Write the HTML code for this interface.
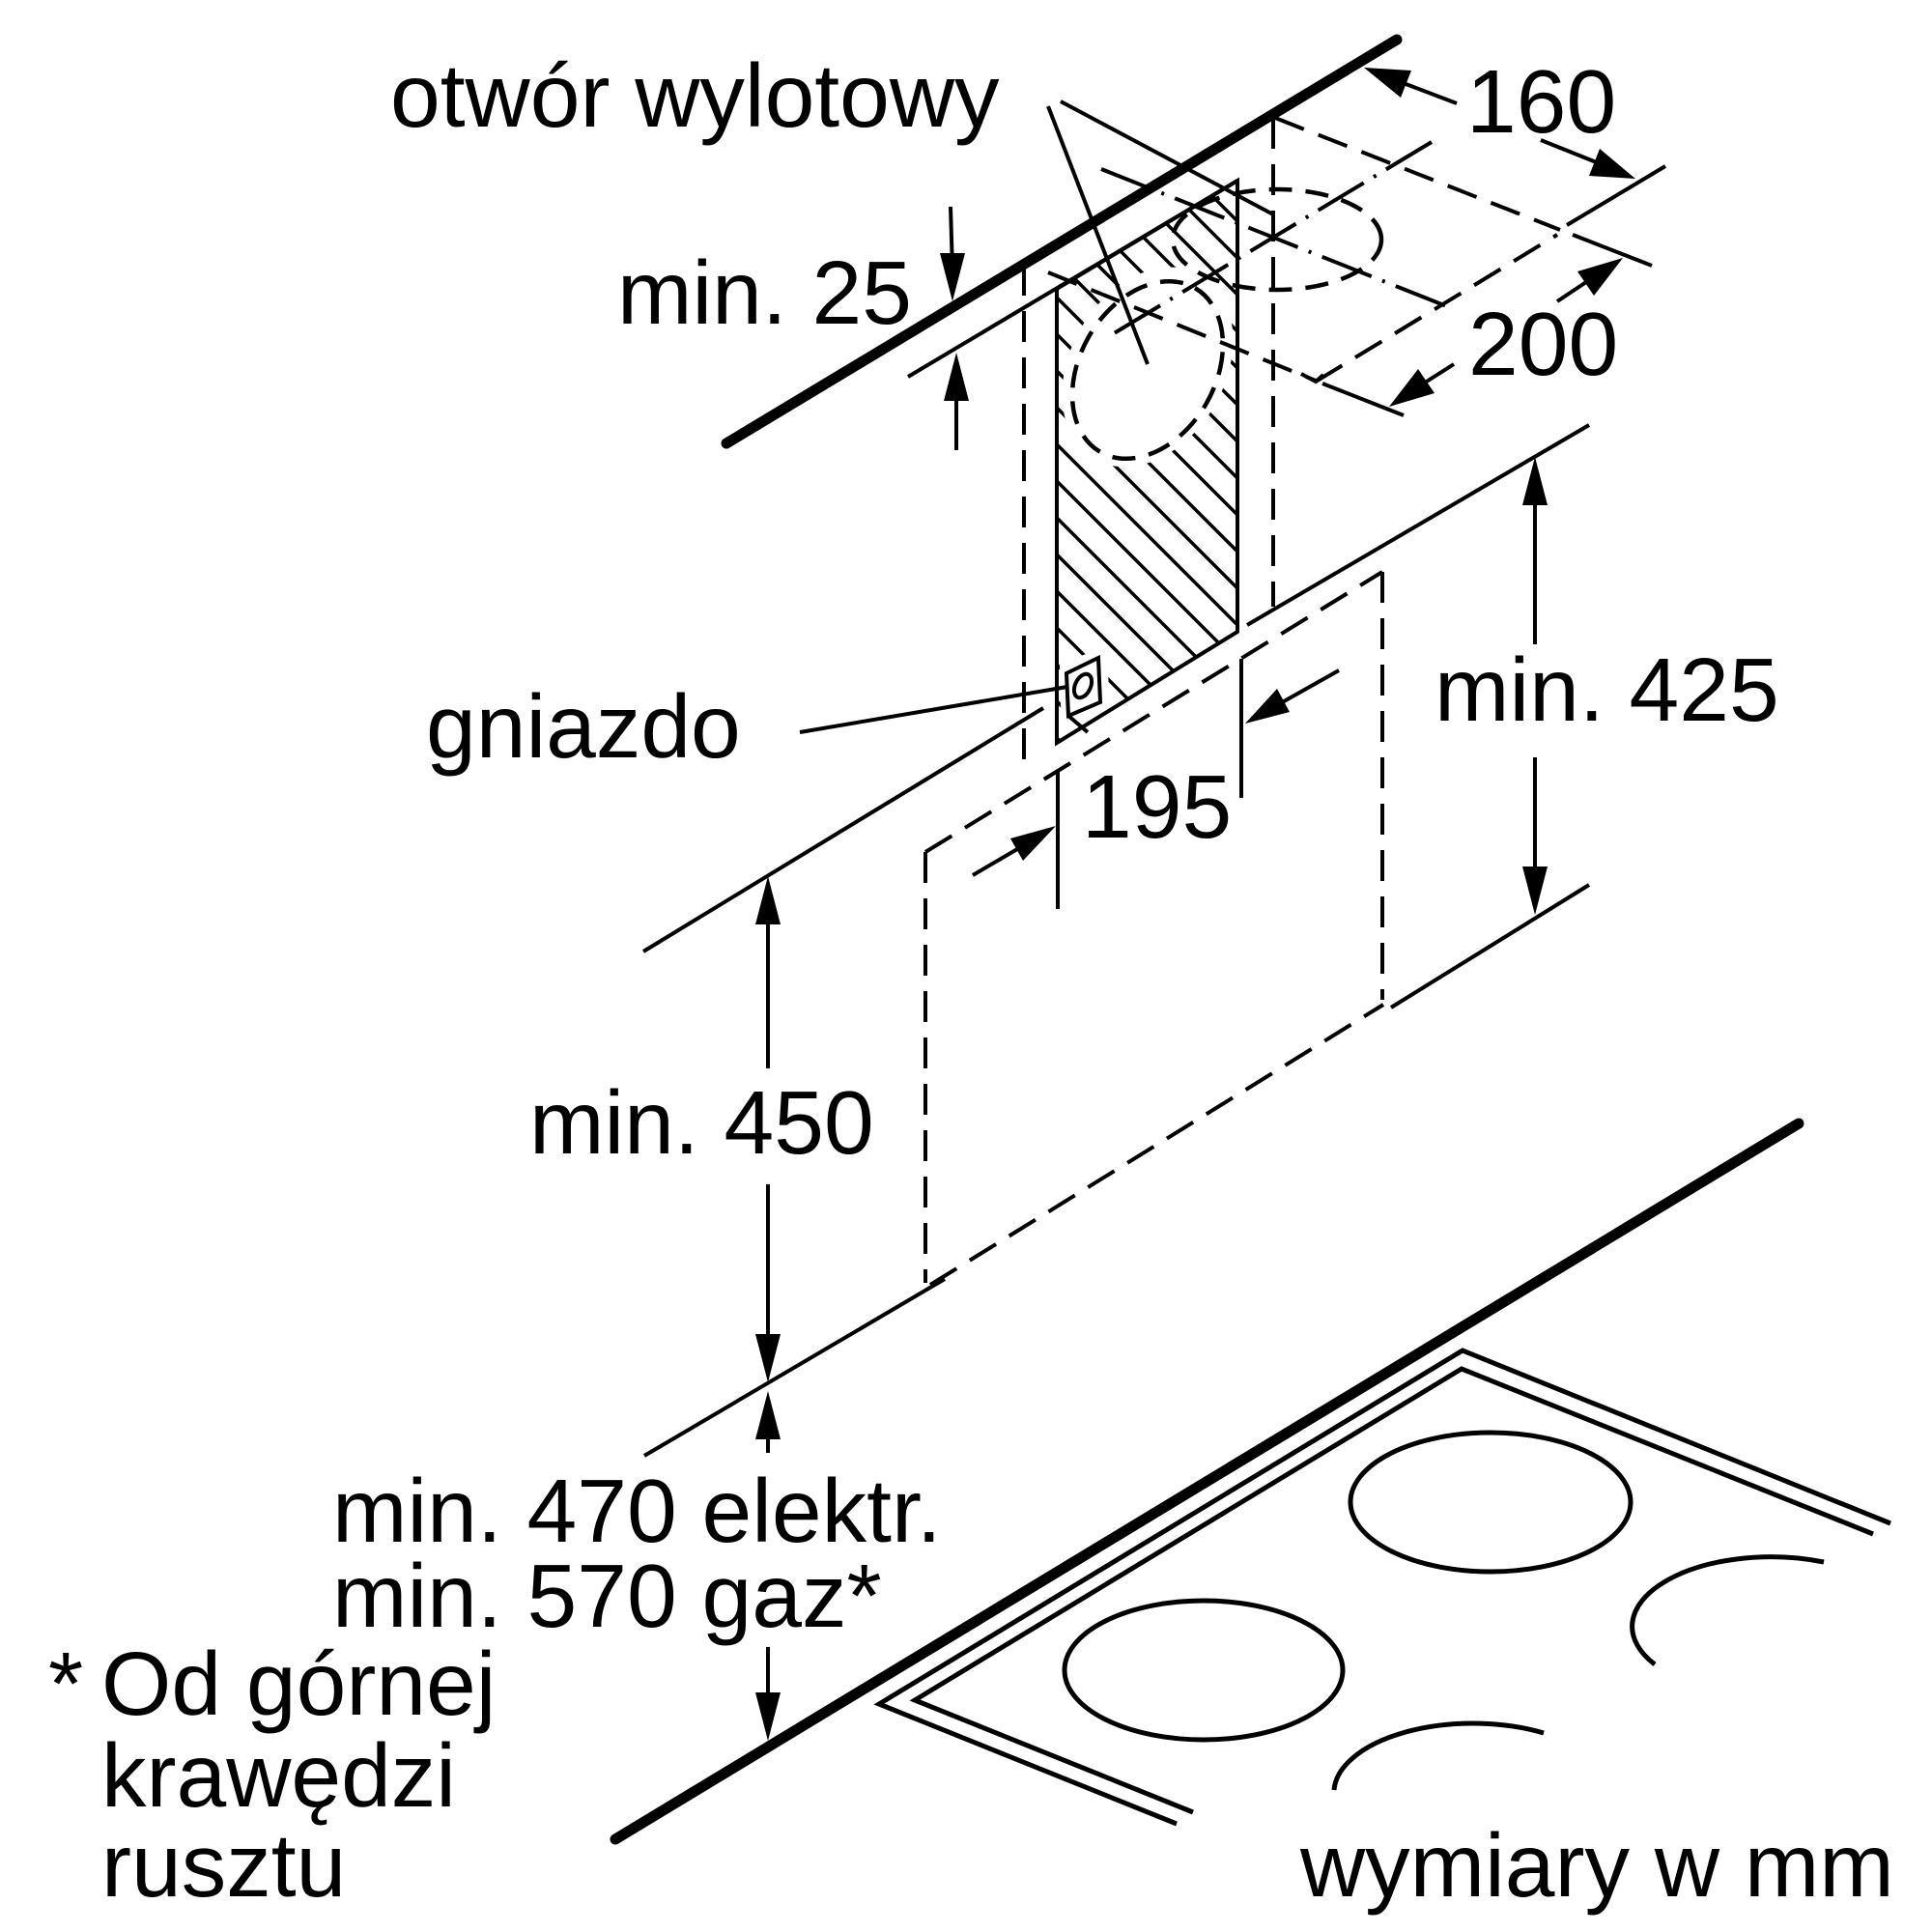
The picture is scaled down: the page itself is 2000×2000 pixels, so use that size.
<!DOCTYPE html>
<html>
<head>
<meta charset="utf-8">
<style>
html,body{margin:0;padding:0;background:#fff;}
svg{display:block;}
text{font-family:"Liberation Sans",Arial,sans-serif;font-size:93px;fill:#000;}
</style>
</head>
<body>
<svg width="2000" height="2000" viewBox="0 0 2000 2000" xmlns="http://www.w3.org/2000/svg">
<defs>
  <clipPath id="panelClip">
    <polygon points="1094,299 1281,187 1281,654 1094,769"/>
  </clipPath>
</defs>
<rect width="2000" height="2000" fill="#fff"/>

<!-- hatch in panel -->
<g clip-path="url(#panelClip)" stroke="#000" stroke-width="3.5" fill="none">
  <path d="M1094,4L1281,191 M1094,42L1281,229 M1094,80L1281,267 M1094,118L1281,305 M1094,156L1281,343 M1094,194L1281,381 M1094,232L1281,419 M1094,270L1281,457 M1094,308L1281,495 M1094,346L1281,533 M1094,384L1281,571 M1094,422L1281,609 M1094,460L1281,647 M1094,498L1281,685 M1094,536L1281,723 M1094,574L1281,761 M1094,612L1281,799 M1094,650L1281,837 M1094,688L1281,875 M1094,726L1281,913 M1094,764L1281,951"/>
</g>
<!-- white gaps -->
<ellipse cx="1188" cy="380" rx="110" ry="80" transform="rotate(-60 1188 380)" fill="#fff"/>
<polygon points="1097,688 1146,668 1149,742 1099,768" fill="#fff"/>

<g stroke="#000" fill="none" stroke-linecap="butt">
  <!-- thick lines -->
  <line x1="752" y1="459" x2="1446" y2="41" stroke-width="11" stroke-linecap="round"/>
  <line x1="637" y1="1904" x2="1862" y2="1163" stroke-width="11" stroke-linecap="round"/>

  <g stroke-width="4">
    <line x1="940" y1="390" x2="1281" y2="187"/>
    <polygon points="1094,299 1281,187 1281,654 1094,769"/>
    <!-- socket -->
    <polygon points="1104,697 1137,681 1139,727 1106,741"/>
    <ellipse cx="1121" cy="710" rx="8" ry="13" transform="rotate(25 1121 710)"/>
    <line x1="1106" y1="741" x2="1126" y2="758"/>

    <!-- hood lines -->
    <line x1="666" y1="985" x2="1080" y2="733"/>
    <line x1="1291" y1="647" x2="1645" y2="440"/>
    <line x1="667" y1="1507" x2="978" y2="1324"/>
    <line x1="1440" y1="1043" x2="1645" y2="916"/>

    <!-- leaders -->
    <line x1="1085" y1="110" x2="1188" y2="377"/>
    <line x1="1098" y1="105" x2="1318" y2="222"/>
    <line x1="828" y1="758" x2="1105" y2="711"/>

    <!-- extension lines -->
    <line x1="1095" y1="797" x2="1095" y2="941"/>
    <line x1="1285" y1="682" x2="1285" y2="826"/>
    <line x1="1622" y1="233" x2="1724" y2="172"/>
    <line x1="1628" y1="243" x2="1710" y2="275"/>
    <line x1="1369" y1="397" x2="1453" y2="430"/>

    <!-- dimension lines -->
    <line x1="984" y1="214" x2="986" y2="280"/>
    <line x1="990" y1="400" x2="990" y2="466"/>
    <line x1="1508" y1="107" x2="1450" y2="85"/>
    <line x1="1595" y1="145" x2="1655" y2="169"/>
    <line x1="1612" y1="312" x2="1645" y2="290"/>
    <line x1="1505" y1="377" x2="1472" y2="398"/>
    <line x1="1589" y1="505" x2="1589" y2="667"/>
    <line x1="1589" y1="784" x2="1589" y2="915"/>
    <line x1="1007" y1="906" x2="1060" y2="875"/>
    <line x1="1386" y1="694" x2="1322" y2="730"/>
    <line x1="795" y1="940" x2="795" y2="1106"/>
    <line x1="795" y1="1226" x2="795" y2="1400"/>
    <line x1="795" y1="1470" x2="795" y2="1504"/>
    <line x1="795" y1="1705" x2="795" y2="1770"/>
  </g>

  <!-- dashed lines -->
  <g stroke-width="4" stroke-dasharray="32 16">
    <line x1="1060" y1="274" x2="1060" y2="797"/>
    <line x1="1318" y1="122" x2="1318" y2="628"/>
    <line x1="958" y1="882" x2="1431" y2="592"/>
    <line x1="958" y1="882" x2="958" y2="1328"/>
    <line x1="1431" y1="592" x2="1431" y2="1035"/>
    <line x1="963" y1="1330" x2="1432" y2="1040"/>
    <line x1="1320" y1="122" x2="1615" y2="238"/>
    <line x1="1362" y1="395" x2="1612" y2="243"/>
    <line x1="1085" y1="282" x2="1362" y2="394"/>
  </g>
  <polyline points="1347,387 1362,395 1370,388" stroke-width="4"/>

  <!-- dash-dot centre lines -->
  <g stroke-width="4" stroke-dasharray="55 12 3 12">
    <line x1="1140" y1="175" x2="1505" y2="320"/>
    <line x1="1482" y1="147" x2="1150" y2="347"/>
  </g>

  <!-- dashed circles -->
  <ellipse cx="1188" cy="383" rx="98" ry="70" transform="rotate(-60 1188 383)" stroke-width="4.5" stroke-dasharray="24 14"/>
  <ellipse cx="1322" cy="248" rx="108" ry="52" stroke-width="4.5" stroke-dasharray="24 14"/>

  <!-- cooktop -->
  <g stroke-width="5" stroke-linejoin="miter">
    <polyline points="1218,1888 910,1764 1514,1398 1957,1577"/>
    <polyline points="1235,1876 947,1760 1513,1417 1939,1588"/>
    <ellipse cx="1543" cy="1555" rx="145" ry="72"/>
    <ellipse cx="1246" cy="1729" rx="144" ry="72"/>
    <path d="M1713,1723 A144,72 0 0 1 1888,1617"/>
    <path d="M1381,1853 A144,72 0 0 1 1598,1794"/>
  </g>
</g>

<!-- arrowheads -->
<g fill="#000" stroke="none">
  <polygon points="986,312 973,262 999,262"/>
  <polygon points="990,365 977,415 1003,415"/>
  <polygon points="1412,70 1461,73 1450,101"/>
  <polygon points="1693,185 1645,182 1656,154"/>
  <polygon points="1680,267 1650,306 1633,281"/>
  <polygon points="1438,421 1468,382 1485,407"/>
  <polygon points="1589,473 1576,523 1602,523"/>
  <polygon points="1589,947 1576,897 1602,897"/>
  <polygon points="1093,855 1059,891 1046,868"/>
  <polygon points="1289,749 1322,713 1335,737"/>
  <polygon points="795,907 782,957 808,957"/>
  <polygon points="795,1431 782,1381 808,1381"/>
  <polygon points="795,1440 782,1490 808,1490"/>
  <polygon points="795,1802 782,1752 808,1752"/>
</g>

<!-- labels -->
<text x="404" y="131">otwór wylotowy</text>
<text x="639" y="335">min. 25</text>
<text x="1518" y="137">160</text>
<text x="1520" y="388">200</text>
<text x="441" y="784">gniazdo</text>
<text x="1120" y="867">195</text>
<text x="1485" y="746">min. 425</text>
<text x="548" y="1194">min. 450</text>
<text x="344" y="1596">min. 470 elektr.</text>
<text x="344" y="1684">min. 570 gaz*</text>
<text x="50" y="1775">*</text>
<text x="105" y="1775">Od górnej</text>
<text x="105" y="1870">krawędzi</text>
<text x="105" y="1963">rusztu</text>
<text x="1346" y="1963">wymiary w mm</text>
</svg>
</body>
</html>
